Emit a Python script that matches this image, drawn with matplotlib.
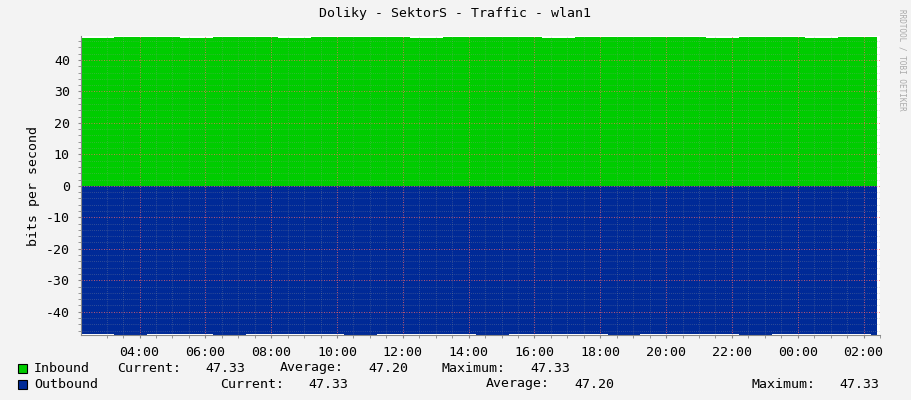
import matplotlib
matplotlib.use("Agg")
import matplotlib.pyplot as plt
import numpy as np

plt.rcParams['font.family'] = 'DejaVu Sans Mono'

# hours since midnight of day 1 (values > 24 are next day)
hours = [2.22, 3.22, 4.22, 5.22, 6.22, 7.22, 8.22, 9.22, 10.22, 11.22, 12.22, 13.22,
         14.22, 15.22, 16.22, 17.22, 18.22, 19.22, 20.22, 21.22, 22.22, 23.22, 24.22,
         25.22, 26.22, 26.4]
inbound = [47.1, 47.3, 47.2, 47.1, 47.3, 47.2, 47.1, 47.2, 47.3, 47.2, 47.1, 47.2,
           47.3, 47.2, 47.1, 47.2, 47.3, 47.2, 47.2, 47.1, 47.3, 47.2, 47.1, 47.2, 47.33, 47.33]
outbound = [47.1, 47.3, 47.2, 47.1, 47.3, 47.2, 47.1, 47.2, 47.3, 47.2, 47.1, 47.2,
            47.3, 47.2, 47.1, 47.2, 47.3, 47.2, 47.2, 47.1, 47.3, 47.2, 47.1, 47.2, 47.33, 47.33]
yticks = [-40, -30, -20, -10, 0, 10, 20, 30, 40]
xtick_hours = [4, 6, 8, 10, 12, 14, 16, 18, 20, 22, 24, 26]
xtick_labels = ['04:00', '06:00', '08:00', '10:00', '12:00', '14:00', '16:00',
                '18:00', '20:00', '22:00', '00:00', '02:00']

W, H = 911, 400
fig = plt.figure(figsize=(W / 100, H / 100), dpi=100, facecolor='#f3f3f3')
ax = fig.add_axes([81 / W, (H - 335) / H, (880 - 81) / W, (335 - 36) / H])
ax.set_facecolor('white')

ax.fill_between(hours, 0, inbound, step='post', color='#00cc00', lw=0)
ax.fill_between(hours, 0, [-v for v in outbound], step='post', color='#002a97', lw=0)

ax.set_xlim(2.22, 26.4)
ax.set_ylim(-47.4, 47.6)
ax.set_yticks(yticks)
ax.set_yticklabels([str(v) for v in yticks])
ax.set_yticks(np.arange(-46, 48, 2), minor=True)
ax.set_xticks(xtick_hours)
ax.set_xticklabels(xtick_labels)
ax.set_xticks(np.arange(3, 27, 0.5), minor=True)

ax.grid(which='minor', color='#999999', ls=(0, (1, 2)), lw=0.5, alpha=0.6)
ax.grid(which='major', color='#ff6666', ls=(0, (1, 2)), lw=0.6)
ax.set_axisbelow(False)
for s in ['top', 'right']:
    ax.spines[s].set_visible(False)
for s in ['left', 'bottom']:
    ax.spines[s].set_color('#888888')
    ax.spines[s].set_linewidth(0.8)
ax.tick_params(which='both', length=2, color='#888888', labelsize=9.5, pad=6)

ax.set_ylabel('bits per second', fontsize=9.5)
fig.text(0.5, 14 / H, '', ha='center')
fig.text(455 / W, 1 - 14 / H, 'Doliky - SektorS - Traffic - wlan1', ha='center', va='center', fontsize=9.5)
fig.text(902 / W, 1 - 60 / H, 'RRDTOOL / TOBI OETIKER', rotation=270, ha='center', va='center',
         fontsize=5.5, color='#aaaaaa')

# legend
fig.patches.append(plt.Rectangle((18 / W, 1 - 373 / H), 9 / W, 9 / H, transform=fig.transFigure,
                                 fc='#00cc00', ec='black', lw=0.8))
fig.patches.append(plt.Rectangle((18 / W, 1 - 389 / H), 9 / W, 9 / H, transform=fig.transFigure,
                                 fc='#002a97', ec='black', lw=0.8))
fs = 9.5
y1, y2 = 1 - 368 / H, 1 - 384 / H
fig.text(34 / W, y1, 'Inbound', va='center', fontsize=fs)
fig.text(117 / W, y1, 'Current:', va='center', fontsize=fs)
fig.text(205 / W, y1, '47.33', va='center', fontsize=fs)
fig.text(280 / W, y1, 'Average:', va='center', fontsize=fs)
fig.text(368 / W, y1, '47.20', va='center', fontsize=fs)
fig.text(442 / W, y1, 'Maximum:', va='center', fontsize=fs)
fig.text(530 / W, y1, '47.33', va='center', fontsize=fs)
fig.text(34 / W, y2, 'Outbound', va='center', fontsize=fs)
fig.text(220 / W, y2, 'Current:', va='center', fontsize=fs)
fig.text(308 / W, y2, '47.33', va='center', fontsize=fs)
fig.text(486 / W, y2, 'Average:', va='center', fontsize=fs)
fig.text(574 / W, y2, '47.20', va='center', fontsize=fs)
fig.text(751 / W, y2, 'Maximum:', va='center', fontsize=fs)
fig.text(839 / W, y2, '47.33', va='center', fontsize=fs)

fig.savefig('out.png', dpi=100, facecolor=fig.get_facecolor())
